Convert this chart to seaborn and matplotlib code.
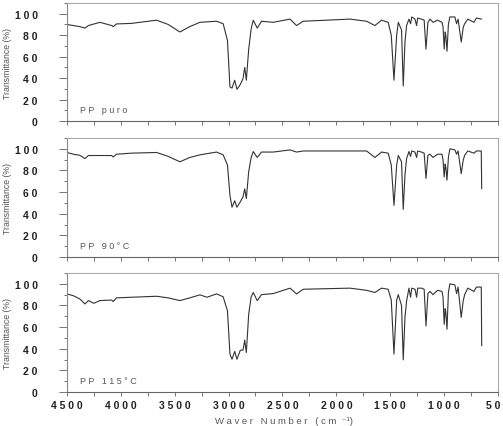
import numpy as np
import pandas as pd
import matplotlib
matplotlib.use("Agg")
import matplotlib.pyplot as plt
from matplotlib.ticker import MultipleLocator
import seaborn as sns

# Wavenumber (cm-1) / transmittance (%)
wn_puro = [4500, 4440, 4380, 4333, 4300, 4194, 4085, 4070, 4040, 3900, 3668, 3560, 3451, 3360, 3266,
           3111, 3050, 3010, 2987, 2968, 2943, 2922, 2891, 2866, 2850, 2835, 2813, 2790, 2771, 2734,
           2694, 2585, 2430, 2369, 2307, 1874, 1719, 1642, 1580, 1519, 1490, 1465, 1440, 1425, 1395,
           1379, 1363, 1348, 1326, 1311, 1300, 1270, 1255, 1245, 1210, 1185, 1168, 1150, 1131, 1103,
           1060, 1020, 1010, 999, 990, 984, 973, 960, 946, 900, 884, 870, 841, 822, 809, 780, 723,
           700, 651]
t_puro = [90, 89, 88, 86.6, 89, 92, 89, 88, 90.5, 91, 94, 90, 83, 88, 92,
          93, 90.7, 75, 31.7, 30.7, 38, 29.5, 34, 39.4, 50, 38, 67, 86, 94, 86.6,
          93, 92, 95, 89, 93, 95, 93, 89, 94, 92, 80, 38, 80, 92, 85,
          32.6, 73.6, 89, 95, 90.7, 97, 95, 89, 96, 95, 94, 67, 92, 95, 92,
          94, 92, 88, 67, 83, 80, 65, 90, 97, 97, 90.7, 95, 73.6, 87.6, 90.7, 95, 92,
          96, 95]

wn_90 = [4500, 4440, 4380, 4333, 4300, 4194, 4085, 4070, 4040, 3900, 3668, 3560, 3451, 3360, 3266,
         3111, 3050, 3010, 2987, 2968, 2943, 2922, 2891, 2866, 2850, 2835, 2813, 2790, 2771, 2734,
         2694, 2585, 2430, 2369, 2307, 1874, 1719, 1642, 1580, 1519, 1490, 1465, 1440, 1425, 1395,
         1379, 1363, 1348, 1326, 1311, 1300, 1270, 1255, 1245, 1210, 1185, 1168, 1150, 1131, 1103,
         1060, 1020, 1010, 999, 990, 984, 973, 960, 946, 900, 884, 870, 841, 822, 809, 780, 723,
         700, 655, 651]
t_90 = [96.6, 95, 94, 91, 93.8, 93.8, 93.8, 92.5, 95, 96, 96.6, 93, 88, 92, 94.4,
        97, 94.4, 85, 57, 46, 52, 46, 51, 55.5, 63, 54, 79, 92, 97.5, 92,
        97, 97, 99, 97, 98, 98, 98, 92, 97, 96, 85, 47.7, 85, 93.8, 88,
        44, 75.7, 91, 97.5, 93, 98, 97, 92, 98, 97, 96, 72.6, 94, 95, 92,
        95, 95, 90, 74, 86, 83, 71, 92, 100, 99, 95, 98, 77, 89.7, 94, 98, 96,
        98, 98, 63]

wn_115 = [4500, 4440, 4380, 4333, 4300, 4250, 4194, 4085, 4070, 4040, 3900, 3668, 3560, 3451, 3360,
          3266, 3200, 3111, 3050, 3010, 2987, 2968, 2943, 2922, 2891, 2866, 2850, 2835, 2813, 2790,
          2771, 2734, 2694, 2585, 2430, 2369, 2307, 1874, 1719, 1642, 1580, 1519, 1490, 1465, 1440,
          1425, 1395, 1379, 1363, 1348, 1326, 1311, 1300, 1270, 1255, 1245, 1210, 1185, 1168, 1150,
          1131, 1103, 1060, 1020, 1010, 999, 990, 984, 973, 960, 946, 900, 884, 870, 841, 822, 809,
          780, 723, 700, 655, 651]
t_115 = [90.7, 89, 86, 81.4, 84.5, 82, 84.5, 85, 83.6, 87, 87.6, 88.5, 87, 84.5, 87,
         89.8, 87.6, 90.7, 88, 75, 35, 30.3, 37.5, 30.3, 38.7, 38.7, 48, 36.5, 72, 88,
         92, 84.5, 90, 91, 96, 90.7, 95, 96, 94, 92, 96, 95, 85, 35, 85,
         90, 80, 29.7, 69, 84, 96, 87.6, 96, 95, 87.6, 96, 96, 95, 61, 91, 93, 90,
         94, 93, 88, 62.5, 77, 74, 58, 92, 100, 99, 91, 97, 69, 84.5, 90, 96, 93,
         97, 97, 42.7]

spectra = [(wn_puro, t_puro, "P P   p u r o"),
           (wn_90, t_90, "P P   9 0 ° C"),
           (wn_115, t_115, "P P   1 1 5 ° C")]

sns.set_style("ticks")
plt.rcParams['font.family'] = ['Liberation Sans', 'DejaVu Sans']

fig = plt.figure(figsize=(5.03, 4.27), dpi=100)
boxes = [[0.133, 0.7143, 0.857, 0.2763],
         [0.133, 0.3958, 0.857, 0.2787],
         [0.133, 0.0796, 0.857, 0.2787]]


def spaced(v):
    return " ".join(str(int(v)))


for i, (wn, tr, name) in enumerate(spectra):
    ax = fig.add_axes(boxes[i])
    df = pd.DataFrame({"wn": wn, "T": tr})
    sns.lineplot(data=df, x="wn", y="T", ax=ax, color="#333333", linewidth=0.8,
                 sort=False, estimator=None)
    ax.set_xlim(4500, 500)
    ax.set_ylim(0, 110)
    ax.xaxis.set_minor_locator(MultipleLocator(250))
    ax.yaxis.set_minor_locator(MultipleLocator(10))
    yt = np.arange(0, 101, 20)
    ax.set_yticks(yt)
    ax.set_yticklabels([spaced(v) for v in yt], fontsize=7.5, fontweight="bold", color="#222222")
    xt = np.arange(4500, 499, -500)
    ax.set_xticks(xt)
    if i == 2:
        ax.set_xticklabels([spaced(v) for v in xt], fontsize=7.5, fontweight="bold", color="#222222")
    else:
        ax.set_xticklabels([])
    ax.tick_params(axis="y", which="major", direction="out", length=6, width=0.7,
                   color="#777777", pad=15)
    ax.tick_params(axis="y", which="minor", direction="out", length=2.5, width=0.7, color="#777777")
    ax.tick_params(axis="x", which="both", direction="out", length=3, width=0.7,
                   color="#777777", pad=3)
    for s in ax.spines.values():
        s.set_color("#aaaaaa")
        s.set_linewidth(0.8)
    ax.spines["bottom"].set_color("#666666")
    ax.spines["left"].set_color("#888888")
    ax.set_xlabel("")
    ax.set_ylabel("Transmittance (%)", fontsize=6.3, color="#555555")
    ax.yaxis.set_label_coords(-0.128, 0.5)
    ax.text(4380, 11, name, fontsize=6.5, color="#555555", va="center")

fig.text(0.565, 0.013, "W a v e r   N u m b e r   ( c m  ⁻¹)", fontsize=6.8,
         color="#555555", ha="center", va="center")

plt.savefig("out.png", dpi=100)
